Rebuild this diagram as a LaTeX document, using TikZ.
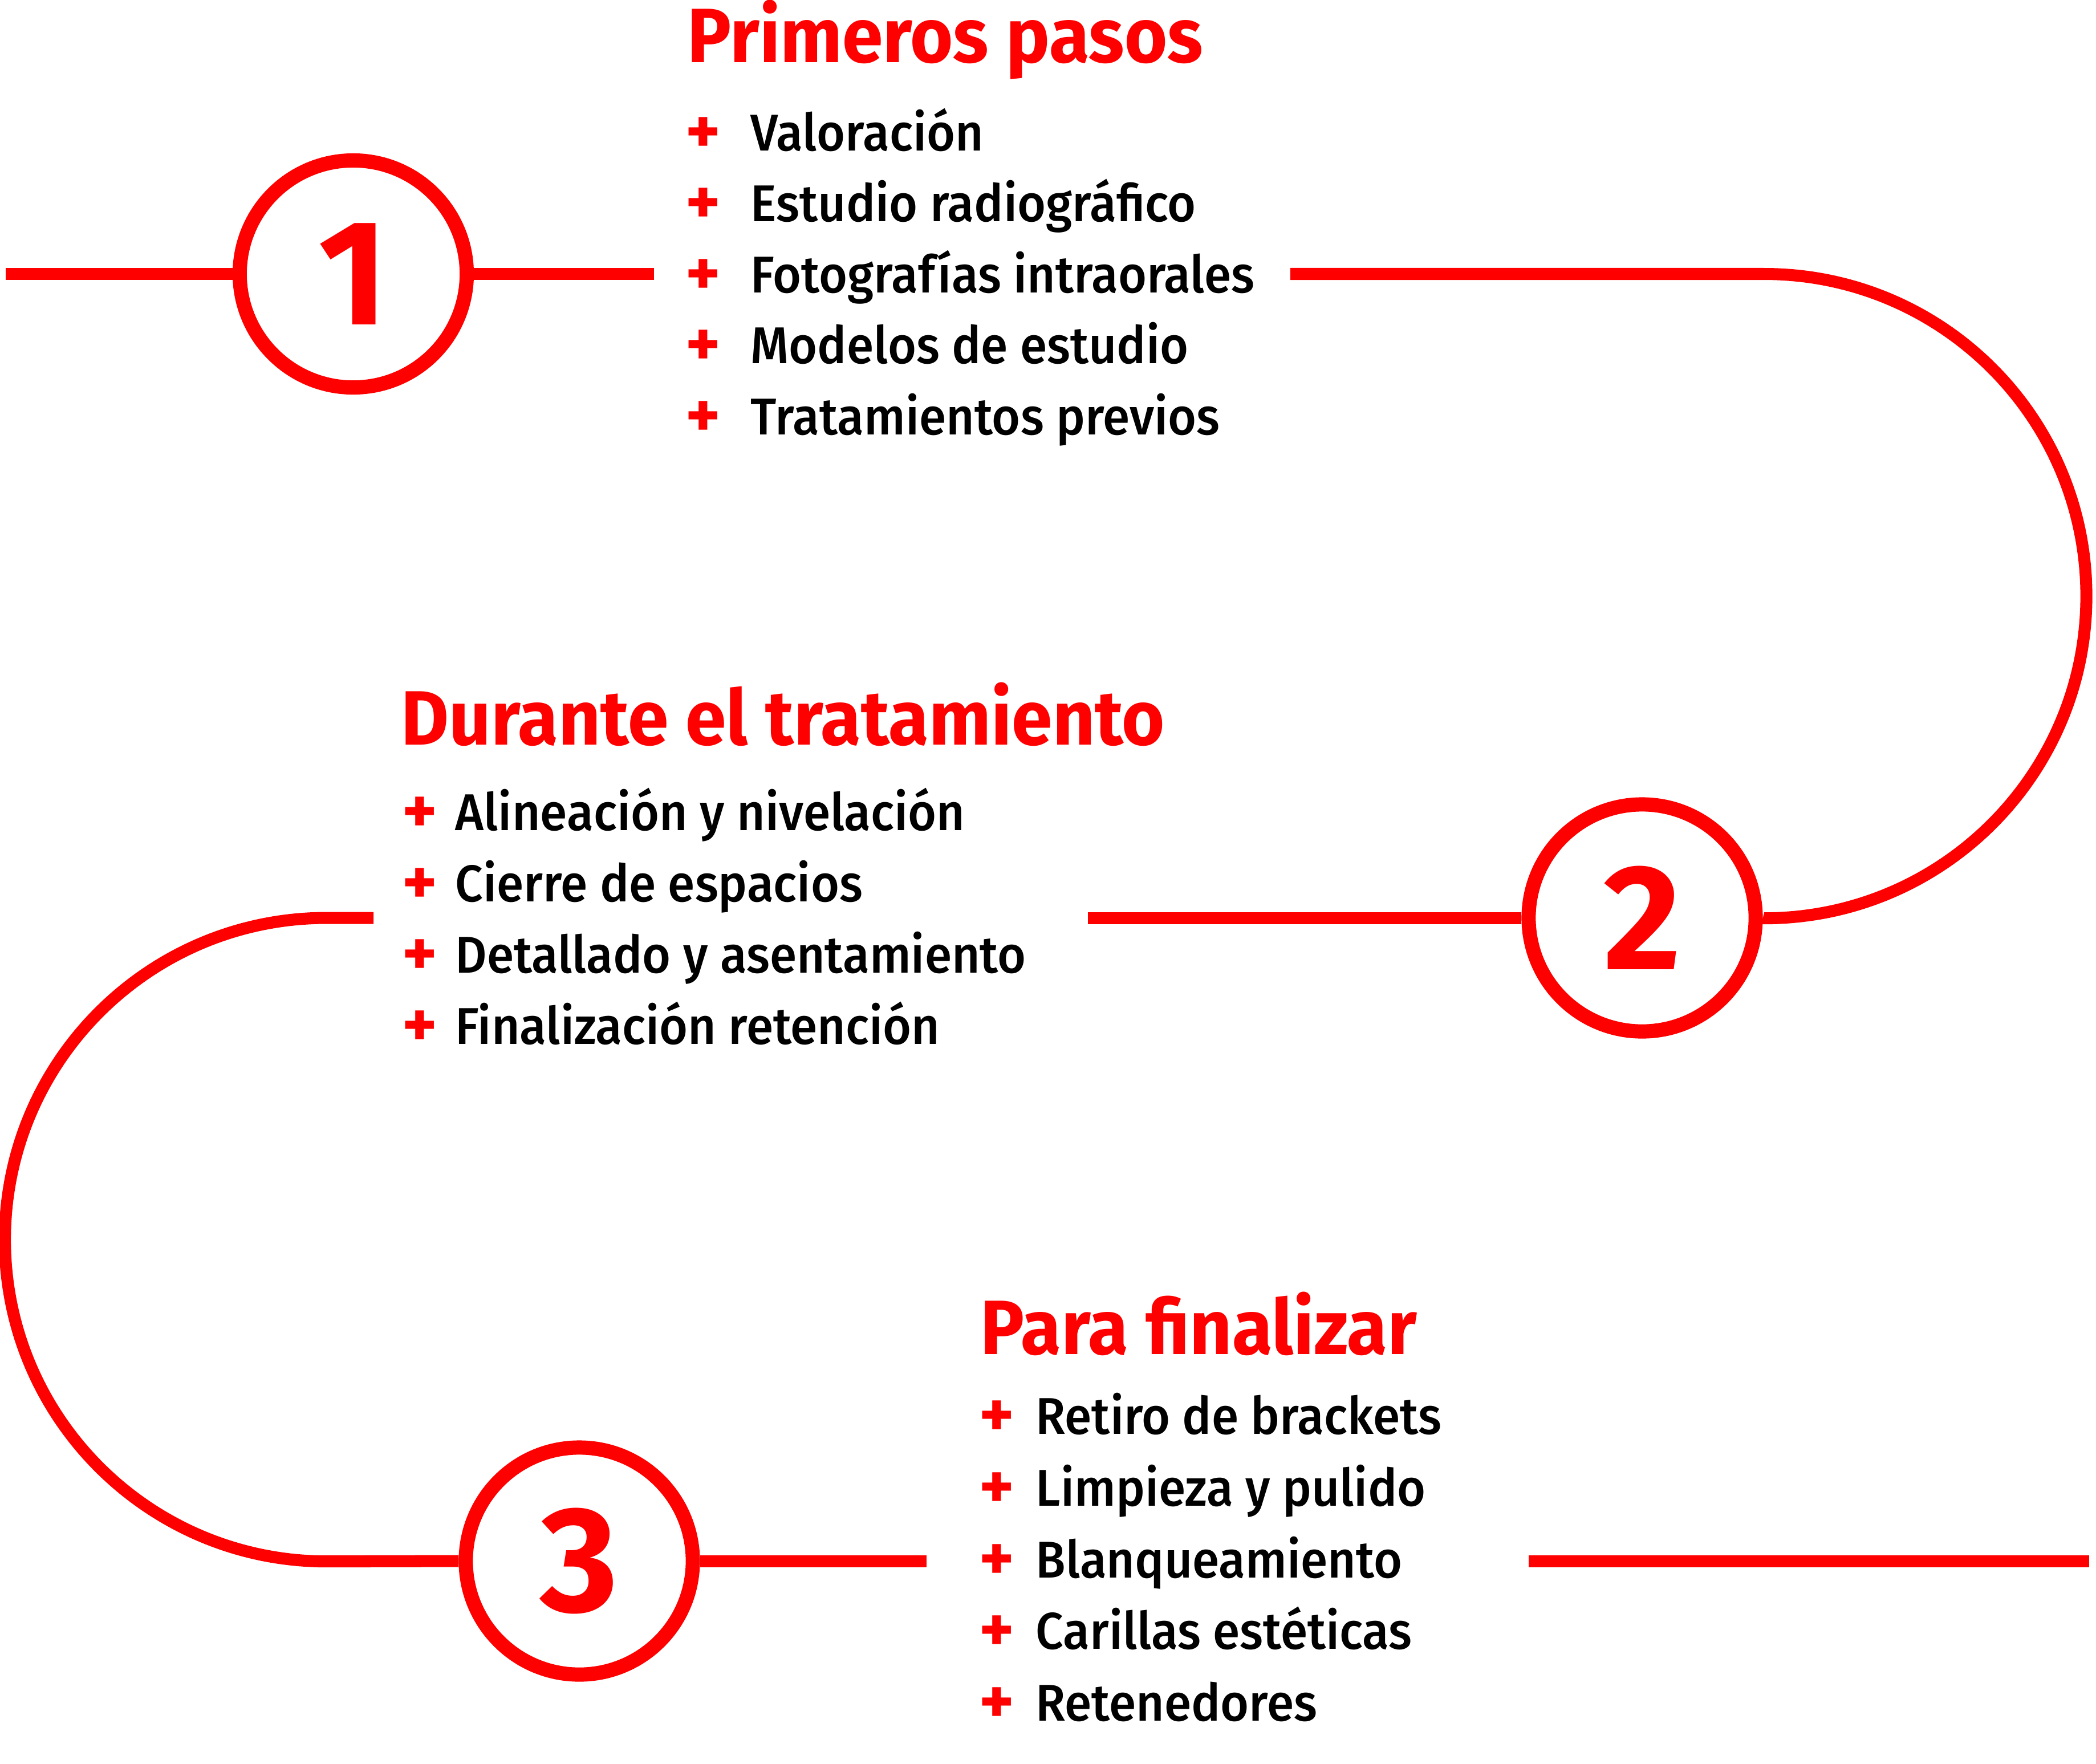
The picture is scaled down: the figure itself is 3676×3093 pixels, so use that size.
\documentclass[tikz,border=0pt]{standalone}
\usepackage{fontspec}
\setmainfont{Fira Sans}[UprightFont={* Medium}, BoldFont={* Bold}, FakeStretch=0.945]
\newfontfamily\titlefont{Fira Sans}[FakeStretch=0.955]
\newfontfamily\digitfont{Fira Sans}
\definecolor{brandred}{RGB}{255,0,0}
\begin{document}
\begin{tikzpicture}[x=0.01cm, y=-0.01cm,
  conn/.style={draw=brandred, line width=5.98pt},
  stepcirc/.style={circle, draw=brandred, line width=7.1pt, minimum size=3.98cm, inner sep=0pt,
    text=brandred, font=\digitfont\bfseries\fontsize{74.8}{80}\selectfont},
  sectitle/.style={anchor=base west, inner sep=0pt, text=brandred,
    font=\titlefont\bfseries\fontsize{38.4}{46}\selectfont},
  listitem/.style={anchor=base west, inner sep=0pt, font=\fontsize{25.8}{31}\selectfont},
  plusmark/.style={anchor=base, inner sep=0pt, text=brandred, font=\digitfont\bfseries\fontsize{33}{38}\selectfont}]
\useasboundingbox (0,0) rectangle (3676,3093);

% step circles
\node[stepcirc] (c1) at (619.5,480.5) {1};
\node[stepcirc] (c2) at (2880,1610) {2};
\node[stepcirc] (c3) at (1016,2738) {3};

% free ends of the connectors
\coordinate (a0) at (10,480.5);
\coordinate (a1) at (1147,480.5);
\coordinate (a2) at (2263,480.5);
\coordinate (b1) at (1908,1610);
\coordinate (b2) at (655,1610);
\coordinate (d1) at (1625,2738);
\coordinate (d2) at (2681,2738);
\coordinate (d3) at (3664,2738);

% connectors
\draw[conn] (a0) -- (c1.west);
\draw[conn] (c1.east) -- (a1);
\draw[conn] (a2) -- (3094,480.5) arc[start angle=90, end angle=-90, radius=5.6475cm] -- (c2.east);
\draw[conn] (c2.west) -- (b1);
\draw[conn] (b2) -- (573,1610) arc[start angle=90, end angle=270, radius=5.64cm] -- (c3.west);
\draw[conn] (c3.east) -- (d1);
\draw[conn] (d2) -- (d3);

% section 1
\node[sectitle] (t1) at (1205,109) {Primeros pasos};
\foreach \n/\y/\txt in {1/264/Valoración, 2/388.5/Estudio radiográfico, 3/513/Fotografías intraorales, 4/637.5/Modelos de estudio, 5/762/Tratamientos previos}{
  \node[plusmark] (p1\n) at (1233,\y+5) {+};
  \node[listitem] (i1\n) at (1316,\y) {\txt};
}

% section 2
\node[sectitle] (t2) at (703,1306) {Durante el tratamiento};
\foreach \n/\y/\txt in {1/1456/Alineación y nivelación, 2/1581/Cierre de espacios, 3/1706/Detallado y asentamiento, 4/1831/Finalización retención}{
  \node[plusmark] (p2\n) at (736.5,\y+5) {+};
  \node[listitem] (i2\n) at (798,\y) {\txt};
}

% section 3
\node[sectitle] (t3) at (1719,2375) {Para finalizar};
\foreach \n/\y/\txt in {1/2515/Retiro de brackets, 2/2641/Limpieza y pulido, 3/2767/Blanqueamiento, 4/2892/Carillas estéticas, 5/3018/Retenedores}{
  \node[plusmark] (p3\n) at (1748,\y+5) {+};
  \node[listitem] (i3\n) at (1816,\y) {\txt};
}
\end{tikzpicture}
\end{document}
